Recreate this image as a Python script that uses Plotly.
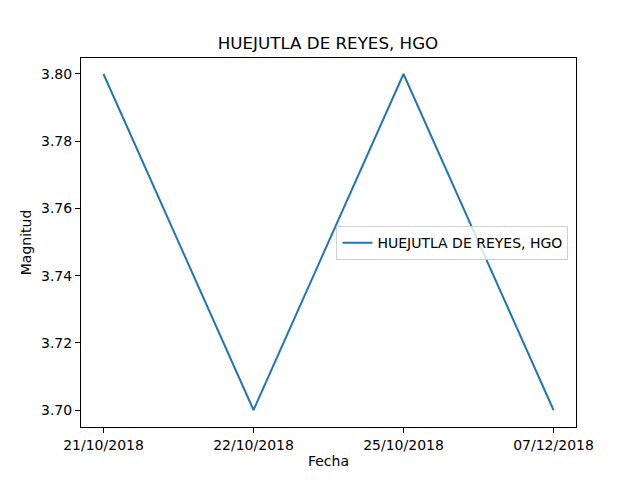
import plotly.graph_objects as go

fechas = ["21/10/2018", "22/10/2018", "25/10/2018", "07/12/2018"]
magnitudes = [3.8, 3.7, 3.8, 3.7]
y_ticks = [3.70, 3.72, 3.74, 3.76, 3.78, 3.80]
titulo = "HUEJUTLA DE REYES, HGO"

fig = go.Figure()
fig.add_trace(go.Scatter(
    x=list(range(len(fechas))), y=magnitudes, mode="lines",
    line=dict(color="#1f77b4", width=2), name=titulo, showlegend=True))

font = "DejaVu Sans, sans-serif"
W, H = 632, 472
fig.update_layout(
    width=W, height=H,
    margin=dict(l=73, r=64, t=50, b=53),
    paper_bgcolor="white", plot_bgcolor="white",
    font=dict(family=font, size=14, color="black"),
    title=dict(text=titulo, x=(328 - 8) / W, xanchor="center", y=1 - 35 / H, yanchor="middle",
               font=dict(size=16.7, family=font, color="black")),
    showlegend=True,
    legend=dict(x=0.516, y=0.544, xanchor="left", yanchor="top",
                bordercolor="#d0d0d0", borderwidth=1, bgcolor="rgba(255,255,255,0.8)",
                font=dict(size=14, family=font), tracegroupgap=0,
                itemwidth=30),
)
fig.update_xaxes(
    range=[-0.15, 3.15], tickmode="array", tickvals=list(range(len(fechas))), ticktext=fechas,
    showgrid=False, zeroline=False, showline=True, linecolor="black", linewidth=1, mirror=True,
    ticks="outside", ticklen=5, tickcolor="black", tickfont=dict(size=14),
    title=dict(text="Fecha", font=dict(size=14, family=font), standoff=4))
fig.update_yaxes(
    range=[3.69494, 3.80476], tickmode="array", tickvals=y_ticks,
    ticktext=[f"{v:.2f}" for v in y_ticks],
    showgrid=False, zeroline=False, showline=True, linecolor="black", linewidth=1, mirror=True,
    ticks="outside", ticklen=5, tickcolor="black", tickfont=dict(size=14),
    title=dict(text="Magnitud", font=dict(size=14, family=font), standoff=6))

fig.write_html("out.html")
